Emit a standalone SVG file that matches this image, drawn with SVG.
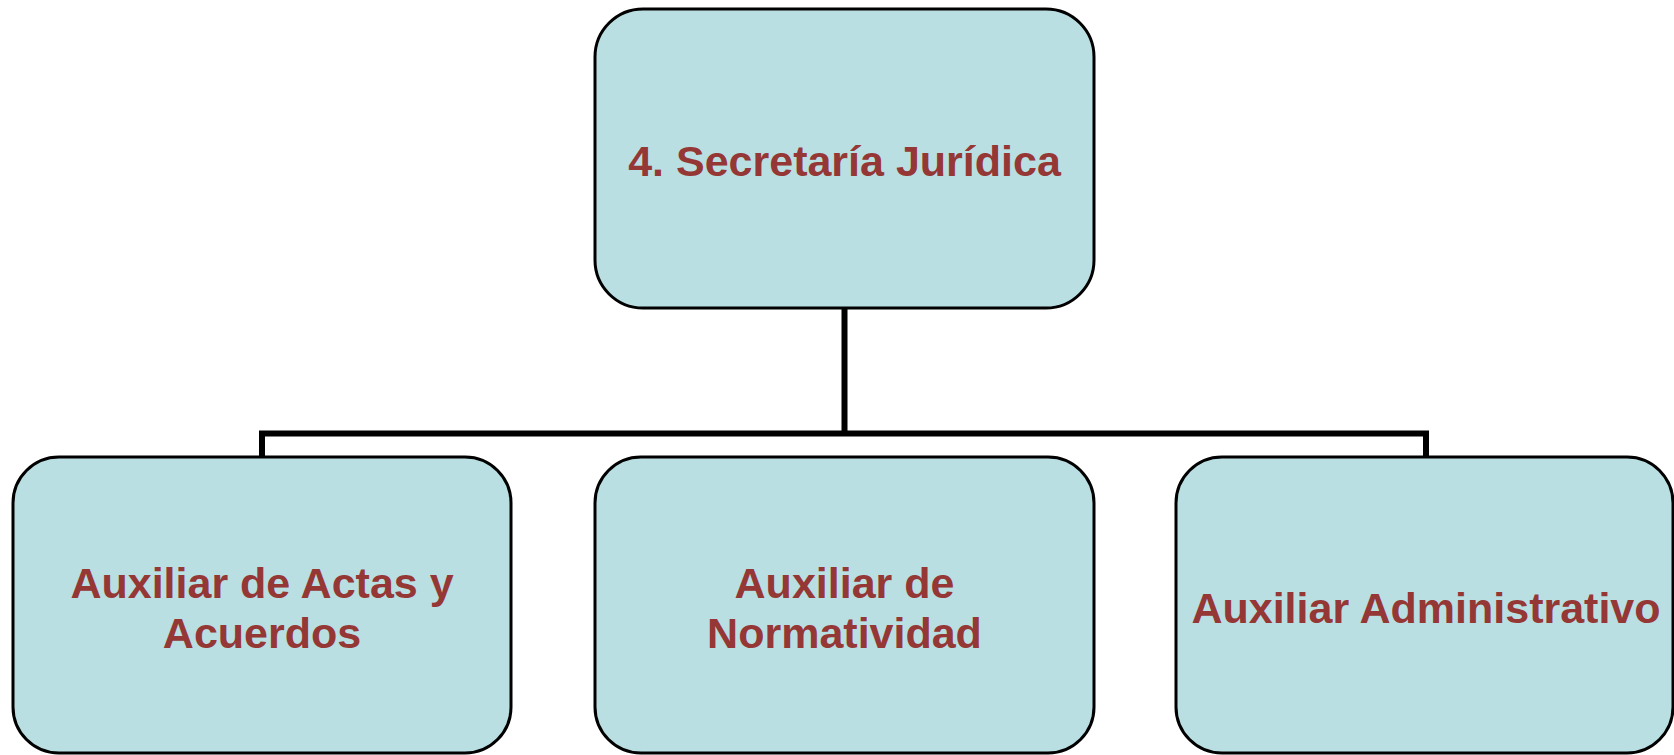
<svg xmlns="http://www.w3.org/2000/svg" width="1674" height="755" viewBox="0 0 1674 755">
<style>
.box{fill:#BADFE3;stroke:#000;stroke-width:3}
.lbl{font-family:"Liberation Sans",Arial,sans-serif;font-weight:bold;font-size:43px;fill:#953735;text-anchor:middle}
.conn{fill:none;stroke:#000;stroke-width:6}
</style>
<rect width="1674" height="755" fill="#fff"/>
<g id="connectors">
<path class="conn" d="M844.5 308 V433.5 M262 457 V433.5 H1426 V457"/>
</g>
<g id="secretaria">
<rect class="box" x="595" y="9" width="499" height="299" rx="48" ry="48"/>
<text class="lbl" x="844.5" y="176">4. Secretaría Jurídica</text>
</g>
<g id="actas">
<rect class="box" x="13" y="457" width="498" height="296" rx="46" ry="46"/>
<text class="lbl" x="262" y="598">Auxiliar de Actas y</text>
<text class="lbl" x="262" y="648">Acuerdos</text>
</g>
<g id="normatividad">
<rect class="box" x="595" y="457" width="499" height="296" rx="46" ry="46"/>
<text class="lbl" x="844.5" y="598">Auxiliar de</text>
<text class="lbl" x="844.5" y="648">Normatividad</text>
</g>
<g id="administrativo">
<rect class="box" x="1176" y="457" width="497" height="296" rx="46" ry="46"/>
<text class="lbl" x="1426" y="623">Auxiliar Administrativo</text>
</g>
</svg>
